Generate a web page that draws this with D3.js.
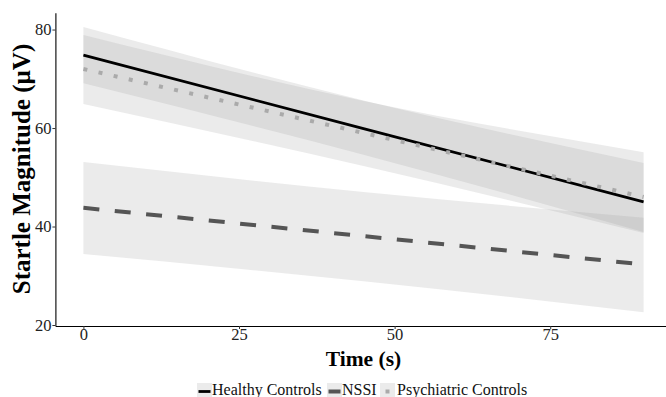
<!DOCTYPE html>
<html>
<head>
<meta charset="utf-8">
<script src="https://cdn.jsdelivr.net/npm/d3@7"></script>
<style>
  body { margin: 0; background: #fff; }
  svg { display: block; font-family: "Liberation Serif", "Times New Roman", serif; }
</style>
</head>
<body>
<svg width="666" height="397"></svg>
<script>
var svg = d3.select("svg");

// data
var groups = ["Healthy Controls", "NSSI", "Psychiatric Controls"];
var timePoints = [0, 45, 90];
var healthyFit = [74.8, 59.9, 45.0];
var healthyLow = [69.1, 54.6, 38.9];
var healthyHigh = [80.5, 65.6, 52.9];
var nssiFit = [43.8, 38.05, 32.3];
var nssiLow = [34.4, 28.9, 22.6];
var nssiHigh = [53.1, 47.0, 41.8];
var psychFit = [72.0, 59.0, 46.0];
var psychLow = [64.9, 52.3, 38.7];
var psychHigh = [78.9, 65.5, 55.1];
var xTicks = [0, 25, 50, 75];
var yTicks = [20, 40, 60, 80];

var series = [
  { name: groups[0], fit: healthyFit, low: healthyLow, high: healthyHigh, color: "#000", width: 2.8, dash: null },
  { name: groups[1], fit: nssiFit, low: nssiLow, high: nssiHigh, color: "#555", width: 4, dash: "16,15.5" },
  { name: groups[2], fit: psychFit, low: psychLow, high: psychHigh, color: "#aaa", width: 4, dash: "4,11.5" }
];

var x = d3.scaleLinear().domain([-4.5, 94.5]).range([55.4, 671.6]);
var y = d3.scaleLinear().domain([19.8, 83.4]).range([326, 12.8]);

var bandArea = d3.area()
  .x((d, i) => x(timePoints[i]))
  .y0(d => y(d[0]))
  .y1(d => y(d[1]))
  .curve(d3.curveMonotoneX);

var fitLine = d3.line()
  .x((d, i) => x(timePoints[i]))
  .y(d => y(d));

// confidence bands
series.forEach(s => {
  svg.append("path")
    .datum(s.low.map((v, i) => [v, s.high[i]]))
    .attr("d", bandArea)
    .attr("fill", "#999")
    .attr("fill-opacity", 0.2);
});

// fitted lines
series.forEach(s => {
  svg.append("path")
    .datum(s.fit)
    .attr("d", fitLine)
    .attr("fill", "none")
    .attr("stroke", s.color)
    .attr("stroke-width", s.width)
    .attr("stroke-dasharray", s.dash);
});

// axes
var yAxis = svg.append("g")
  .attr("transform", "translate(55.4,0)")
  .call(d3.axisLeft(y).tickValues(yTicks).tickSize(3).tickSizeOuter(0));
var xAxis = svg.append("g")
  .attr("transform", "translate(0,326)")
  .call(d3.axisBottom(x).tickValues(xTicks).tickSize(3).tickSizeOuter(0));

[xAxis, yAxis].forEach(a => {
  a.select(".domain").attr("stroke", "#000").attr("stroke-width", 1.1);
  a.selectAll(".tick line").attr("stroke", "#333");
  a.selectAll("text")
    .attr("font-family", "Liberation Serif")
    .attr("font-size", 16.5)
    .attr("fill", "#222");
});
yAxis.selectAll("text").attr("x", -4);
xAxis.selectAll("text").attr("y", 2);

// axis titles
svg.append("text")
  .attr("x", 363.5)
  .attr("y", 366)
  .attr("text-anchor", "middle")
  .attr("font-size", 21.5)
  .attr("font-weight", "bold")
  .text("Time (s)");

svg.append("text")
  .attr("transform", "translate(30,169) rotate(-90)")
  .attr("text-anchor", "middle")
  .attr("font-size", 25)
  .attr("font-weight", "bold")
  .text("Startle Magnitude (µV)");

// legend
var legendX = [197, 327, 380];
var legend = svg.append("g");
series.forEach((s, i) => {
  var g = legend.append("g").attr("transform", "translate(" + legendX[i] + ",383)");
  g.append("rect")
    .attr("width", 15)
    .attr("height", 17)
    .attr("fill", "#999")
    .attr("fill-opacity", 0.2);
  g.append("line")
    .attr("x1", 1.5).attr("x2", 13.5)
    .attr("y1", 8.5).attr("y2", 8.5)
    .attr("stroke", s.color)
    .attr("stroke-width", s.width)
    .attr("stroke-dasharray", i === 2 ? "4,11.5" : null)
    .attr("stroke-dashoffset", i === 2 ? -4 : 0);
  g.append("text")
    .attr("x", i === 2 ? 17 : 15)
    .attr("y", 11.5)
    .attr("font-size", 16)
    .attr("fill", "#111")
    .text(s.name);
});
</script>
</body>
</html>
